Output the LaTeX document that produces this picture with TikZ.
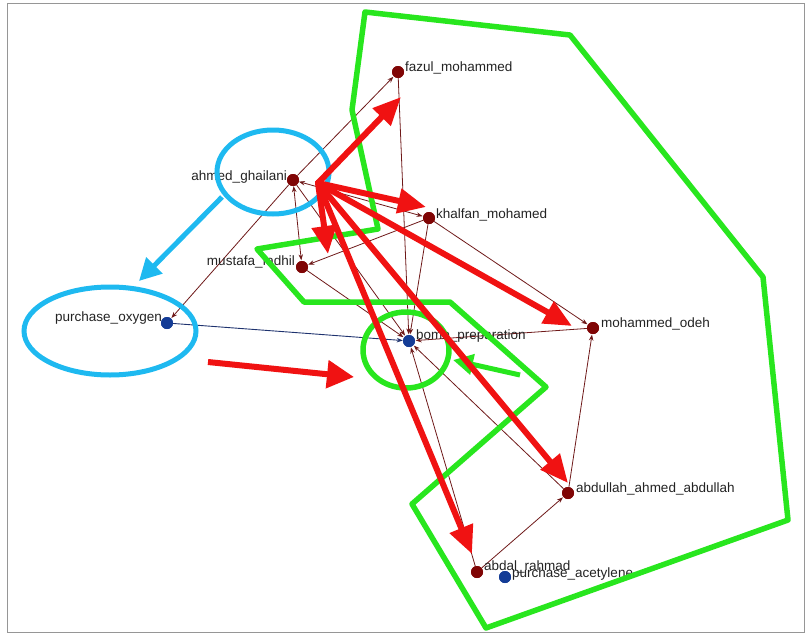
\documentclass[tikz,border=0pt]{standalone}
\usepackage{fontspec}
\setmainfont{Liberation Sans}
\usetikzlibrary{arrows.meta}
\definecolor{nodered}{RGB}{128,5,5}
\definecolor{nodeblue}{RGB}{20,60,150}
\definecolor{edgered}{RGB}{110,25,25}
\definecolor{edgeblue}{RGB}{30,50,110}
\definecolor{hired}{RGB}{240,18,18}
\definecolor{higreen}{RGB}{40,230,30}
\definecolor{hicyan}{RGB}{30,185,240}
\definecolor{txt}{RGB}{35,35,35}
\definecolor{framegray}{RGB}{150,150,150}
\tikzset{
  rnode/.style={circle,fill=nodered,inner sep=0pt,minimum size=12pt},
  bnode/.style={circle,fill=nodeblue,inner sep=0pt,minimum size=12pt},
  lbl/.style={inner sep=0pt,text=txt,font=\fontsize{13.5}{14}\selectfont},
  edge/.style={draw=edgered,line width=0.8pt,-{Stealth[length=6pt,width=4.5pt]},shorten >=0.5pt},
  bedge/.style={draw=edgeblue,line width=0.9pt,-{Stealth[length=6pt,width=4.5pt]}},
  bigred/.style={draw=hired,line width=6pt,-{Triangle[length=28pt,width=24pt]}},
  greenline/.style={draw=higreen,line width=5.5pt,line join=round},
  cyanline/.style={draw=hicyan,line width=5pt},
}
\begin{document}
\begin{tikzpicture}[x=1pt,y=-1pt]
\useasboundingbox (0,0) rectangle (807,635);
\draw[framegray,line width=1pt] (7,3) rectangle (804,632);

% graph nodes
\node[rnode] (fazul) at (398,72) {};
\node[rnode] (ahmed) at (293,180) {};
\node[rnode] (khalfan) at (429,218) {};
\node[rnode] (mustafa) at (302,267) {};
\node[bnode] (oxygen) at (167,323) {};
\node[bnode] (bomb) at (409,341) {};
\node[rnode] (odeh) at (593,328) {};
\node[rnode] (abdullah) at (568,493) {};
\node[rnode] (abdal) at (477,572) {};
\node[bnode] (acet) at (505,577) {};

% thin edges
\draw[edge] (ahmed) -- (fazul);
\draw[edge] (ahmed) -- (oxygen);
\draw[bedge] (oxygen) -- (bomb);
\draw[edge,{Stealth[length=6pt,width=4.5pt]}-{Stealth[length=6pt,width=4.5pt]}] (ahmed) -- (mustafa);
\draw[edge,{Stealth[length=6pt,width=4.5pt]}-{Stealth[length=6pt,width=4.5pt]}] (ahmed) -- (khalfan);
\draw[edge] (khalfan) -- (mustafa);
\draw[edge] (ahmed) -- (bomb);
\draw[edge] (mustafa) -- (bomb);
\draw[edge] (fazul) -- (bomb);
\draw[edge] (khalfan) -- (bomb);
\draw[edge] (khalfan) -- (odeh);
\draw[edge] (odeh) -- (bomb);
\draw[edge] (abdullah) -- (odeh);
\draw[edge] (abdal) -- (abdullah);
\draw[edge] (abdal) -- (bomb);
\draw[edge] (abdullah) -- (bomb);

% redraw nodes on top of edges
\node[rnode] at (fazul) {};
\node[rnode] at (ahmed) {};
\node[rnode] at (khalfan) {};
\node[rnode] at (mustafa) {};
\node[bnode] at (oxygen) {};
\node[bnode] at (bomb) {};
\node[rnode] at (odeh) {};
\node[rnode] at (abdullah) {};
\node[rnode] at (abdal) {};
\node[bnode] at (acet) {};

% labels
\node[lbl,anchor=west] (fazulL) at (405,68) {fazul\_mohammed};
\node[lbl,anchor=east] (ahmedL) at (287,177) {ahmed\_ghailani};
\node[lbl,anchor=west] (khalfanL) at (436,215) {khalfan\_mohamed};
\node[lbl,anchor=east] (mustafaL) at (295,262) {mustafa\_fadhil};
\node[lbl,anchor=east] (oxygenL) at (162,318) {purchase\_oxygen};
\node[lbl,anchor=west] (bombL) at (416,336) {bomb\_preparation};
\node[lbl,anchor=west] (odehL) at (601,324) {mohammed\_odeh};
\node[lbl,anchor=west] (abdullahL) at (576,489) {abdullah\_ahmed\_abdullah};
\node[lbl,anchor=west] (abdalL) at (484,567) {abdal\_rahmad};
\node[lbl,anchor=west] (acetL) at (512,574) {purchase\_acetylene};

% annotation overlay: green outline
\draw[greenline] (365,12) -- (570,35) -- (763,277) -- (788,520) -- (486,628)
  -- (412,504) -- (546,387) -- (450,302) -- (304,302) -- (257,249)
  -- (378,229) -- (352,110) -- cycle;
\draw[greenline] (406,350) ellipse [x radius=43, y radius=38];
\coordinate (gS) at (520,375);
\coordinate (gE) at (453,360);
\draw[draw=higreen,line width=5pt,-{Triangle[length=20pt,width=20pt]}] (gS) -- (gE);

% cyan ellipses and arrow
\draw[cyanline] (273,172) ellipse [x radius=56, y radius=42];
\draw[cyanline] (110,331) ellipse [x radius=86, y radius=44];
\coordinate (cS) at (222,197);
\coordinate (cE) at (139,281);
\draw[cyanline,-{Triangle[length=22pt,width=22pt]}] (cS) -- (cE);

% red thick arrows
\coordinate (hub) at (318,183);
\coordinate (tFazul) at (401,97);
\coordinate (tKhalfan) at (426,207);
\coordinate (tDown) at (328,254);
\coordinate (tOdeh) at (572,326);
\coordinate (tAbdullah) at (568,483);
\coordinate (tAbdal) at (472,554);
\draw[bigred,line cap=round] (hub) -- (tFazul);
\draw[bigred,line cap=round] (hub) -- (tKhalfan);
\draw[bigred,line cap=round] (hub) -- (tDown);
\draw[bigred,line cap=round] (hub) -- (tOdeh);
\draw[bigred,line cap=round] (hub) -- (tAbdullah);
\draw[bigred,line cap=round] (hub) -- (tAbdal);
\coordinate (rS) at (208,362);
\coordinate (rE) at (354,377);
\draw[draw=hired,line width=6pt,-{Triangle[length=27pt,width=27pt]}] (rS) -- (rE);
\end{tikzpicture}
\end{document}
